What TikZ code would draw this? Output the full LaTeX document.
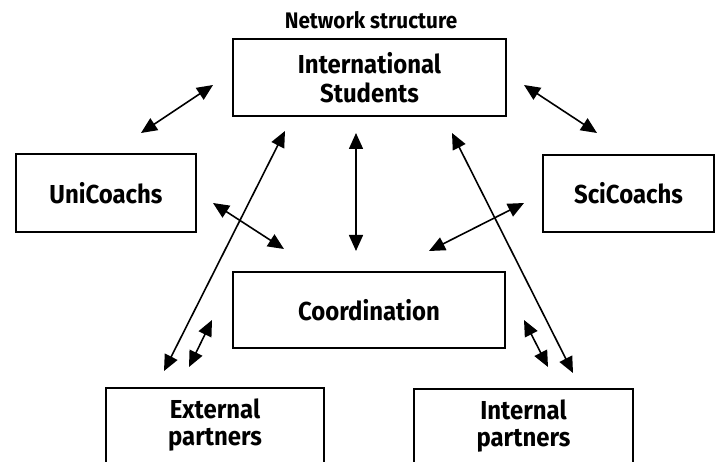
\documentclass[tikz,border=0pt]{standalone}
\usepackage{fontspec}
\setmainfont{Fira Sans}[FakeStretch=0.92]
\usetikzlibrary{arrows.meta}
\begin{document}
\begin{tikzpicture}[x=1pt,y=-1pt,
  box/.style={draw, line width=2pt, inner sep=0pt, align=center,
    font=\bfseries\fontsize{26}{29}\selectfont},
  boxtext/.style={inner sep=0pt, align=center,
    font=\bfseries\fontsize{26}{27}\selectfont},
  title/.style={inner sep=0pt, font=\bfseries\fontsize{22.5}{24}\selectfont},
  link/.style={line width=1.6pt, {Triangle[length=16pt,width=14pt]}-{Triangle[length=16pt,width=14pt]}}]
\useasboundingbox (0,0) rectangle (715,462);
\clip (0,0) rectangle (715,462);

% title
\node[title, anchor=base] (ttl) at (371,29) {Network structure};

% boxes
\node[box, minimum width=273pt, minimum height=77pt] (intl) at (369.5,77.5) {International\\Students};
\node[box, minimum width=180pt, minimum height=78pt] (uni) at (106,193) {UniCoachs};
\node[box, minimum width=171pt, minimum height=77pt] (sci) at (628.5,193.5) {SciCoachs};
\node[box, minimum width=272pt, minimum height=76pt] (coord) at (369,310) {Coordination};
\node[box, minimum width=218pt, minimum height=100pt, anchor=north] (ext) at (215,387) {};
\node[boxtext] (extt) at (215,425) {External\\partners};
\node[box, minimum width=219pt, minimum height=100pt, anchor=north] (int) at (523.5,388) {};
\node[boxtext] (intt) at (523.5,426) {Internal\\partners};

% connector end points
\coordinate (iu1) at (213,85);  \coordinate (iu2) at (141,133);
\coordinate (is1) at (524,85);  \coordinate (is2) at (597,133);
\coordinate (ic1) at (356,133); \coordinate (ic2) at (356,251);
\coordinate (uc1) at (213,203); \coordinate (uc2) at (284,249);
\coordinate (sc1) at (524,203); \coordinate (sc2) at (429,251);
\coordinate (ie1) at (285,131); \coordinate (ie2) at (164,371);
\coordinate (ec1) at (189,367); \coordinate (ec2) at (212,320);
\coordinate (ii1) at (452,133); \coordinate (ii2) at (573,373);
\coordinate (nc1) at (524,320); \coordinate (nc2) at (548,367);

% connectors
\draw[link] (iu1) -- (iu2);
\draw[link] (is1) -- (is2);
\draw[link] (ic1) -- (ic2);
\draw[link] (uc1) -- (uc2);
\draw[link] (sc1) -- (sc2);
\draw[link] (ie1) -- (ie2);
\draw[link] (ec1) -- (ec2);
\draw[link] (ii1) -- (ii2);
\draw[link] (nc1) -- (nc2);
\end{tikzpicture}
\end{document}
